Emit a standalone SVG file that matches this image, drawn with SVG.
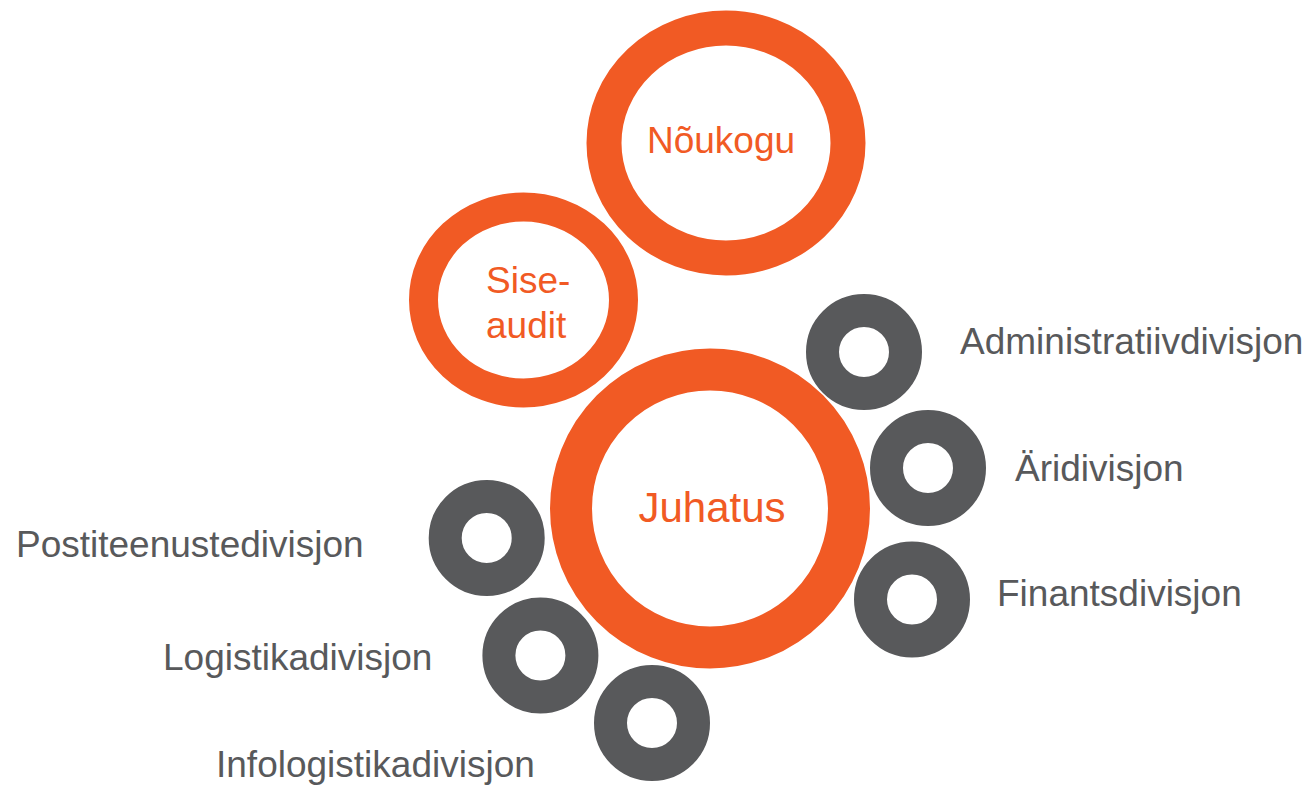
<svg xmlns="http://www.w3.org/2000/svg" width="1314" height="787" viewBox="0 0 1314 787">
<style>
.ring-o{fill:none;stroke:#F15A24}
.ring-g{fill:none;stroke:#58595B;stroke-width:33}
.t{font-family:"Liberation Sans",Arial,sans-serif;font-size:37px}
.to{fill:#F15A24}
.tg{fill:#58595B}
</style>
<rect width="1314" height="787" fill="#ffffff"/>
<g id="connectors"/>
<g id="noukogu">
<ellipse class="ring-o" cx="726" cy="143" rx="122" ry="115" stroke-width="35"/>
<text class="t to" x="721" y="153" text-anchor="middle">Nõukogu</text>
</g>
<g id="siseaudit">
<ellipse class="ring-o" cx="523.5" cy="300" rx="100" ry="93" stroke-width="29"/>
<text class="t to" x="486" y="292.5">Sise-</text>
<text class="t to" x="486" y="337.5">audit</text>
</g>
<g id="juhatus">
<circle class="ring-o" cx="710" cy="508.5" r="139" stroke-width="42"/>
<text class="t to" x="712" y="521.5" text-anchor="middle" style="font-size:42px">Juhatus</text>
</g>
<g id="administratiivdivisjon">
<circle class="ring-g" cx="864" cy="352" r="41.5"/>
<text class="t tg" x="960" y="354">Administratiivdivisjon</text>
</g>
<g id="aridivisjon">
<circle class="ring-g" cx="928" cy="468" r="41.5"/>
<text class="t tg" x="1015" y="480.5">Äridivisjon</text>
</g>
<g id="finantsdivisjon">
<circle class="ring-g" cx="912" cy="599.5" r="41.5"/>
<text class="t tg" x="997" y="606">Finantsdivisjon</text>
</g>
<g id="postiteenustedivisjon">
<circle class="ring-g" cx="486.7" cy="538" r="41.5"/>
<text class="t tg" x="16" y="556.5">Postiteenustedivisjon</text>
</g>
<g id="logistikadivisjon">
<circle class="ring-g" cx="540.4" cy="655.5" r="41.5"/>
<text class="t tg" x="163" y="669.5">Logistikadivisjon</text>
</g>
<g id="infologistikadivisjon">
<circle class="ring-g" cx="652" cy="723" r="41.5"/>
<text class="t tg" x="216" y="776.5">Infologistikadivisjon</text>
</g>
</svg>
